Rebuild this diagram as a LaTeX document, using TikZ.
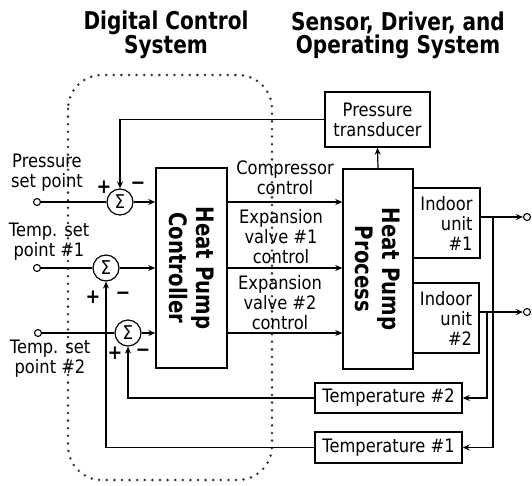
\documentclass[tikz,border=0pt]{standalone}
\usepackage{fontspec}
\setmainfont{DejaVu Sans}[FakeStretch=0.88]
\newfontfamily\tfont{DejaVu Sans}[FakeStretch=0.82]
\usetikzlibrary{arrows.meta}
\begin{document}
\begin{tikzpicture}[x=1pt,y=-1pt,
  box/.style={draw, line width=1.4pt, inner sep=0pt},
  ln/.style={line width=1.2pt},
  arr/.style={ln, -{Stealth[length=7pt,width=6pt]}},
  sumnode/.style={draw, circle, line width=1.2pt, minimum size=26pt, inner sep=0pt, font=\fontsize{19}{19}\selectfont},
  port/.style={draw, circle, line width=1.1pt, minimum size=7pt, inner sep=0pt, fill=white},
  lbl/.style={font=\fontsize{18.5}{20}\selectfont, align=center, inner sep=0pt},
  sign/.style={font=\fontsize{20}{20}\selectfont\bfseries, inner sep=0pt},
  ttl/.style={font=\tfont\bfseries\fontsize{24.5}{23}\selectfont, align=center, inner sep=0pt},
  big/.style={font=\tfont\bfseries\fontsize{24}{27}\selectfont, align=center, inner sep=0pt, rotate=-90},
  dotborder/.style={line width=2.8pt, dash pattern=on 0pt off 7.6pt, line cap=round, black!80}
]
\useasboundingbox (0,0) rectangle (532,485);

% titles
\node[ttl] (t_dcs) at (166,35) {Digital Control\\System};
\node[ttl] (t_sdo) at (398,35) {Sensor, Driver, and\\Operating System};

% dotted boundary
\draw[dotborder, rounded corners=34pt] (68,75) rectangle (272,480);

% main blocks
\node[box, minimum width=71pt, minimum height=200pt] (ctrl) at (191.5,268) {};
\node[big] (ctrltxt) at (ctrl.center) {Heat Pump\\Controller};
\node[box, minimum width=70pt, minimum height=200pt] (proc) at (378,269) {};
\node[big] (proctxt) at (proc.center) {Heat Pump\\Process};

\node[box, lbl, minimum width=105pt, minimum height=55pt] (pt) at (377.5,119.5) {Pressure\\transducer};
\node[box, lbl, align=right, minimum width=67pt, minimum height=70pt] (iu1) at (446.5,223) {Indoor\\unit\\\#1};
\node[box, lbl, align=right, minimum width=66pt, minimum height=70pt] (iu2) at (446,318) {Indoor\\unit\\\#2};
\node[box, lbl, minimum width=147pt, minimum height=30pt] (t2) at (388.5,398) {Temperature \#2};
\node[box, lbl, minimum width=147pt, minimum height=31pt] (t1) at (388.5,447.5) {Temperature \#1};

% summing junctions
\node[sumnode] (s1) at (120,202) {Σ};
\node[sumnode] (s2) at (106,268) {Σ};
\node[sumnode] (s3) at (128,333) {Σ};

% input ports
\node[port] (c1) at (37,202) {};
\node[port] (c2) at (37,268) {};
\node[port] (c3) at (38,333) {};

% output ports
\node[port] (o1) at (527,217) {};
\node[port] (o2) at (527,312) {};

% input labels
\node[lbl] (l1) at (47,172.5) {Pressure\\set point};
\node[lbl] (l2) at (49,242) {Temp. set\\point \#1};
\node[lbl] (l3) at (50,359) {Temp. set\\point \#2};

% signs
\node[sign] (p1) at (104,187) {+};
\node[sign] (m1) at (138,186) {−};
\node[sign] (p2) at (93,297) {+};
\node[sign] (m2) at (123,296) {−};
\node[sign] (p3) at (115,353) {+};
\node[sign] (m3) at (143,353) {−};

% control labels
\node[lbl] (cc) at (285,178) {Compressor\\control};
\node[lbl] (ev1) at (281,237) {Expansion\\valve \#1\\control};
\node[lbl] (ev2) at (280,302.5) {Expansion\\valve \#2\\control};

% inputs to sums
\draw[ln] (c1.east) -- (s1.west);
\draw[ln] (c2.east) -- (s2.west);
\draw[ln] (c3.east) -- (s3.west);

% sums to controller
\draw[arr] (s1.east) -- (s1.east -| ctrl.west);
\draw[arr] (s2.east) -- (s2.east -| ctrl.west);
\draw[arr] (s3.east) -- (s3.east -| ctrl.west);

% controller to process
\draw[arr] (ctrl.east |- s1) -- (proc.west |- s1);
\draw[arr] (ctrl.east |- s2) -- (proc.west |- s2);
\draw[arr] (ctrl.east |- s3) -- (proc.west |- s3);

% process to pressure transducer
\draw[arr] (proc.north) -- (pt.south);

% pressure feedback
\draw[arr] (pt.west) -| (s1.north);

% outputs
\draw[arr] (iu1.east |- o1) -- (o1.west);
\draw[arr] (iu2.east |- o2) -- (o2.west);

% temperature feedback
\coordinate (j1) at (493,217);
\coordinate (j2) at (487,312);
\draw[arr] (j1) |- (t1.east);
\draw[arr] (j2) |- (t2.east);
\draw[arr] (t2.west) -| (s3.south);
\draw[arr] (t1.west) -| (s2.south);
\end{tikzpicture}
\end{document}
